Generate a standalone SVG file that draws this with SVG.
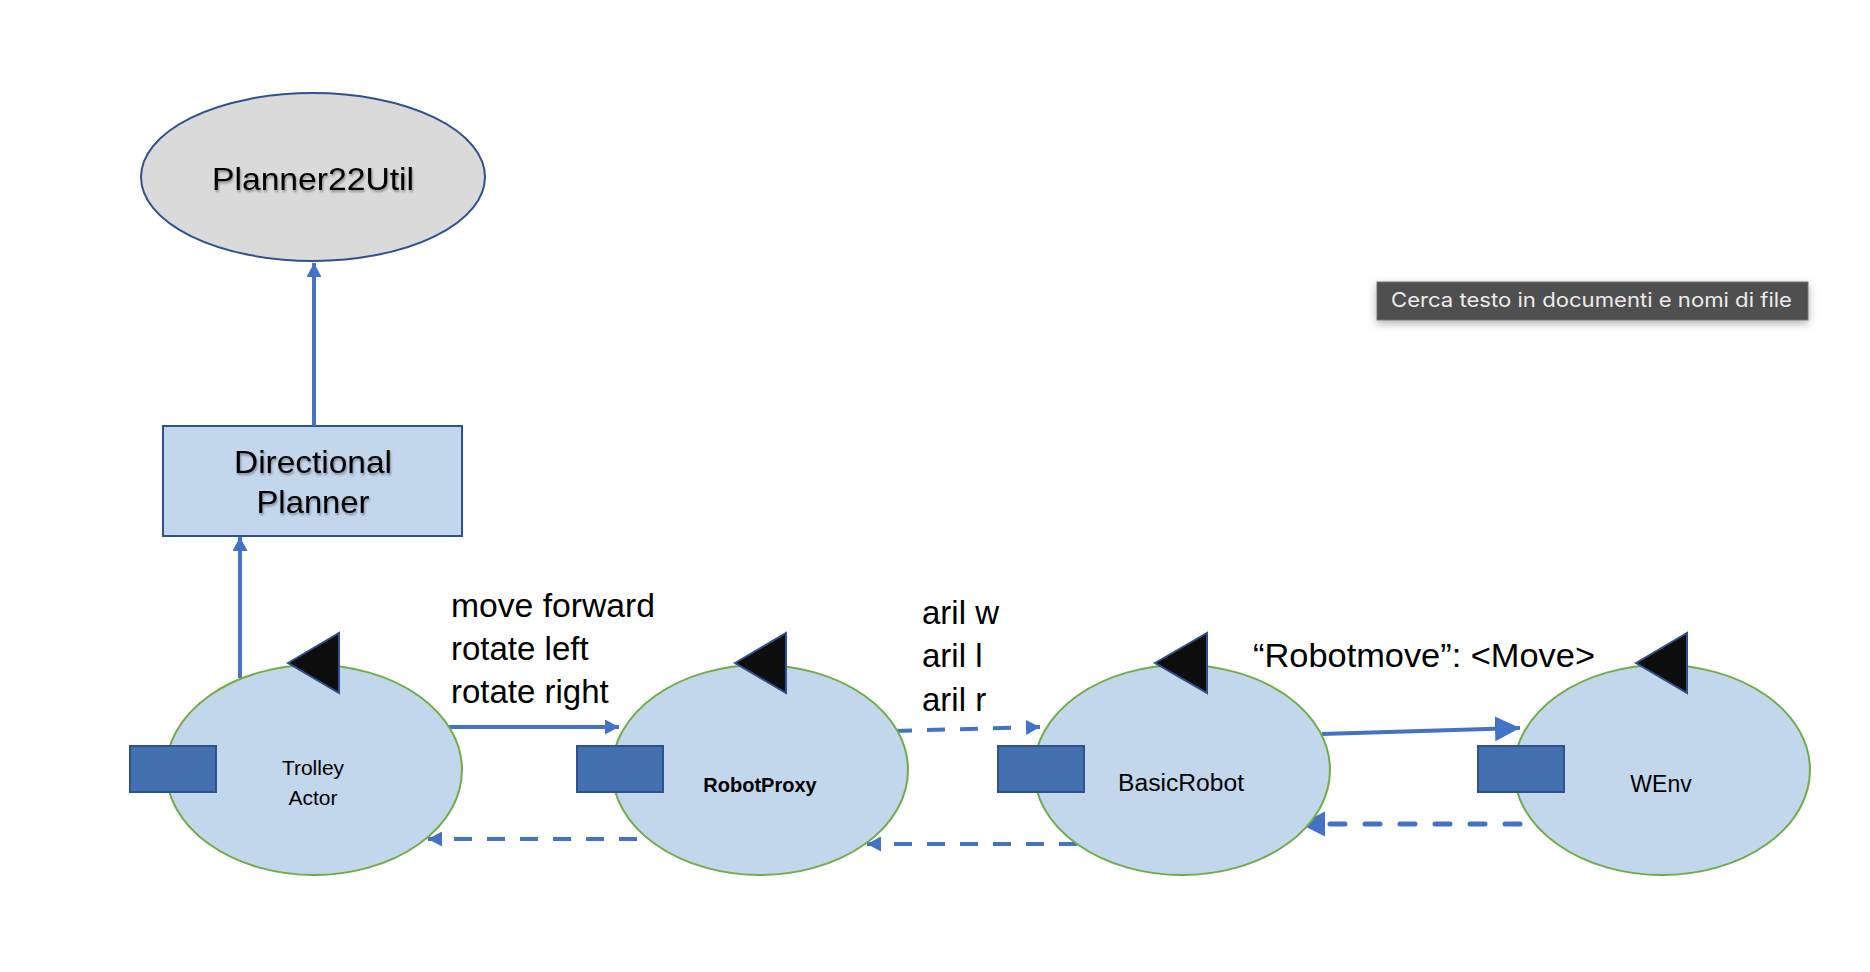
<svg xmlns="http://www.w3.org/2000/svg" width="1870" height="972" viewBox="0 0 1870 972">
<style>
.actor{fill:#c2d6ec;stroke:#70ad47;stroke-width:2}
.port{fill:#4371b0;stroke:#2f528f;stroke-width:2}
.tri{fill:#0d0d0d;stroke:#2f528f;stroke-width:2}
.lbl{font-family:"Liberation Sans",Arial,sans-serif;fill:#000}
.big{font-size:32px;filter:url(#tsh)}
.msg{font-size:33px}
.conn{stroke:#4472c4;stroke-width:4;fill:none}
.dash{stroke-dasharray:18 15}
.rdash{stroke-dasharray:15 20;stroke-linecap:round;stroke-width:5}
</style>
<defs>
<filter id="tsh" x="-10%" y="-30%" width="130%" height="180%"><feDropShadow dx="1" dy="2" stdDeviation="1.2" flood-color="#000" flood-opacity="0.35"/></filter>
<filter id="bsh" x="-10%" y="-50%" width="120%" height="220%"><feDropShadow dx="0" dy="3" stdDeviation="4" flood-color="#000" flood-opacity="0.3"/></filter>
<marker id="ah" markerUnits="userSpaceOnUse" markerWidth="15" markerHeight="15" refX="14" refY="7.5" orient="auto"><path d="M0,0 L14,7.5 L0,15 z" fill="#4472c4"/></marker>
<marker id="ahb" markerUnits="userSpaceOnUse" markerWidth="26" markerHeight="26" refX="25" refY="12.5" orient="auto"><path d="M0,0 L25,12.5 L0,25 z" fill="#4472c4"/></marker>
</defs>
<rect width="1870" height="972" fill="#fff"/>
<g id="planner22util">
<ellipse cx="313" cy="177" rx="172" ry="84" fill="#dadada" stroke="#2f528f" stroke-width="2"/>
<text class="lbl big" x="313" y="190" text-anchor="middle" textLength="202" lengthAdjust="spacingAndGlyphs">Planner22Util</text>
</g>
<g id="directional-planner">
<rect x="163" y="426" width="299" height="110" fill="#c2d6ec" stroke="#2f528f" stroke-width="2"/>
<text class="lbl big" x="313" y="473" text-anchor="middle" textLength="158" lengthAdjust="spacingAndGlyphs">Directional</text>
<text class="lbl big" x="313" y="513" text-anchor="middle" textLength="113" lengthAdjust="spacingAndGlyphs">Planner</text>
</g>
<g id="connectors">
<line class="conn" x1="314" y1="426" x2="314" y2="263" marker-end="url(#ah)"/>
<line class="conn" x1="240" y1="678" x2="240" y2="537" marker-end="url(#ah)"/>
<line class="conn" x1="448" y1="727" x2="619" y2="727" marker-end="url(#ah)"/>
<line class="conn dash" x1="894" y1="731" x2="1040" y2="727" marker-end="url(#ah)"/>
<line class="conn" stroke-width="5" x1="1322" y1="734" x2="1520" y2="728" marker-end="url(#ahb)"/>
<line class="conn dash" x1="637" y1="839" x2="428" y2="839" marker-end="url(#ah)"/>
<line class="conn dash" x1="1077" y1="844" x2="867" y2="844" marker-end="url(#ah)"/>
<line class="conn rdash" x1="1520" y1="824" x2="1300" y2="824" marker-end="url(#ahb)"/>
<text class="lbl msg" x="451" y="617" textLength="204" lengthAdjust="spacingAndGlyphs">move forward</text>
<text class="lbl msg" x="451" y="660">rotate left</text>
<text class="lbl msg" x="451" y="703">rotate right</text>
<text class="lbl msg" x="922" y="624">aril w</text>
<text class="lbl msg" x="922" y="667">aril l</text>
<text class="lbl msg" x="922" y="711">aril r</text>
<text class="lbl msg" x="1253" y="667" textLength="342" lengthAdjust="spacingAndGlyphs">“Robotmove”: &lt;Move&gt;</text>
</g>
<g id="trolley-actor">
<ellipse class="actor" cx="314" cy="770" rx="148" ry="105"/>
<rect class="port" x="130" y="746" width="86" height="46"/>
<polygon class="tri" points="288,663 339,633 339,693"/>
<text class="lbl" font-size="21" x="313" y="775" text-anchor="middle">Trolley</text>
<text class="lbl" font-size="21" x="313" y="805" text-anchor="middle">Actor</text>
</g>
<g id="robotproxy">
<ellipse class="actor" cx="760" cy="770" rx="148" ry="105"/>
<rect class="port" x="577" y="746" width="86" height="46"/>
<polygon class="tri" points="735,663 786,633 786,693"/>
<text class="lbl" font-size="20" font-weight="bold" x="760" y="792" text-anchor="middle">RobotProxy</text>
</g>
<g id="basicrobot">
<ellipse class="actor" cx="1182" cy="770" rx="148" ry="105"/>
<rect class="port" x="998" y="746" width="86" height="46"/>
<polygon class="tri" points="1155,663 1207,633 1207,693"/>
<text class="lbl" font-size="23" x="1181" y="791" text-anchor="middle" textLength="126" lengthAdjust="spacingAndGlyphs">BasicRobot</text>
</g>
<g id="wenv">
<ellipse class="actor" cx="1662" cy="770" rx="148" ry="105"/>
<rect class="port" x="1478" y="746" width="86" height="46"/>
<polygon class="tri" points="1636,663 1687,633 1687,693"/>
<text class="lbl" font-size="23" x="1661" y="792" text-anchor="middle">WEnv</text>
</g>
<g id="tooltip">
<rect x="1377" y="282" width="431" height="38" fill="#505050" stroke="#707070" stroke-width="1" filter="url(#bsh)"/>
<text x="1391" y="307" font-family="Inter,'Liberation Sans',sans-serif" font-size="20" fill="#ececec" textLength="401" lengthAdjust="spacingAndGlyphs">Cerca testo in documenti e nomi di file</text>
</g>
</svg>
